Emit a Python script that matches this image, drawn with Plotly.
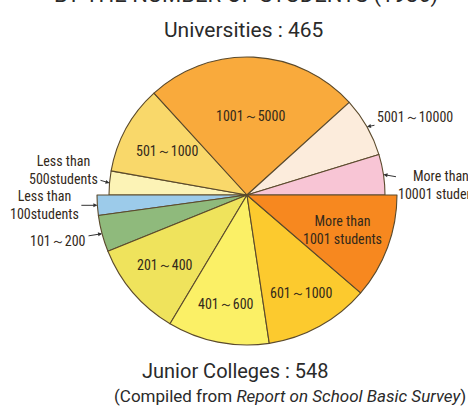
import math
import plotly.graph_objects as go

# Number of institutions by enrolment size
univ_labels = ["Less than<br>500students", "501～1000", "1001～5000",
               "5001～10000", "More than<br>10001 students"]
univ_counts = [26, 97, 233, 65, 44]

jc_labels = ["Less than<br>100students", "101～200", "201～400",
             "401～600", "601～1000", "More than<br>1001 students"]
jc_counts = [24, 43, 113, 120, 124, 124]

univ_title = "Universities : 465"
jc_title = "Junior Colleges : 548"
header = "BY THE NUMBER OF STUDENTS (1986)"
source = "(Compiled from <i>Report on School Basic Survey</i>)"

# ---- styling ----
W, H = 468, 409
CX, CY = 247, 195          # shared centre of the two half-pies (px)
R_TOP, R_BOT = 138, 150    # radii of upper / lower halves (px)
EDGE = "#5b4a2c"
INK = "#33291a"
LABEL_FONT = "Liberation Sans Narrow, Roboto Condensed, Arial Narrow, sans-serif"
TITLE_FONT = "Roboto, Liberation Sans, Arial, sans-serif"

univ_colors = ["#fcf3b6", "#f9d86a", "#f9aa3c", "#fcecdc", "#f8c5d5"]
jc_colors = ["#9ccbea", "#8fba7c", "#efe35c", "#fbf066", "#fcca2e", "#f7881f"]

# label placement: ("in", radius fraction) or ("out", dx px, dy px)
univ_place = [("out", -46, -13), ("in", 0.66), ("in", 0.57), ("out", 48, -10), ("out", 58, 10)]
jc_place = [("out", -53, 0), ("out", -44, 7), ("in", 0.72), ("in", 0.74), ("in", 0.75), ("in", 0.68)]


def px_to_paper(x, y):
    return x / W, 1 - y / H


def domain(r):
    x0, y1 = px_to_paper(CX - r, CY - r)
    x1, y0 = px_to_paper(CX + r, CY + r)
    return dict(x=[x0, x1], y=[y0, y1])


def upper_half(values, colors, r):
    # slices run clockwise from 9 o'clock over the top; a blank half closes the circle
    total = sum(values)
    return go.Pie(
        values=list(values) + [total],
        marker=dict(colors=list(colors) + ["rgba(0,0,0,0)"],
                    line=dict(color=EDGE, width=[1.1] * len(values) + [0])),
        sort=False, direction="clockwise", rotation=-90,
        textinfo="none", hoverinfo="skip", showlegend=False,
        domain=domain(r),
    )


def lower_half(values, colors, r):
    # blank half first (covers the top), then slices run from 9 o'clock down to 3 o'clock
    total = sum(values)
    return go.Pie(
        values=[total] + list(values),
        marker=dict(colors=["rgba(0,0,0,0)"] + list(colors),
                    line=dict(color=EDGE, width=[0] + [1.1] * len(values))),
        sort=False, direction="counterclockwise", rotation=-90,
        textinfo="none", hoverinfo="skip", showlegend=False,
        domain=domain(r),
    )


fig = go.Figure()
fig.add_trace(upper_half(univ_counts, univ_colors, R_TOP))
fig.add_trace(lower_half(jc_counts, jc_colors, R_BOT))

annotations = []


def add_labels(labels, values, place, r, sign):
    total = sum(values)
    cum = 0
    for lab, v, pl in zip(labels, values, place):
        mid = 180 + sign * 180 * (cum + v / 2) / total
        cum += v
        a = math.radians(mid)
        font = dict(size=14, color=INK, family=LABEL_FONT)
        if pl[0] == "in":
            f = pl[1]
            x, y = px_to_paper(CX + r * f * math.cos(a), CY - r * f * math.sin(a))
            annotations.append(dict(x=x, y=y, xref="paper", yref="paper", text=lab,
                                    xanchor="center", yanchor="middle",
                                    showarrow=False, font=font))
        else:
            x, y = px_to_paper(CX + r * math.cos(a), CY - r * math.sin(a))
            annotations.append(dict(x=x, y=y, xref="paper", yref="paper", text=lab,
                                    showarrow=True, ax=pl[1], ay=pl[2], arrowhead=2,
                                    arrowsize=0.8, arrowwidth=1, arrowcolor="#333",
                                    standoff=0, startstandoff=1, font=font))


add_labels(univ_labels, univ_counts, univ_place, R_TOP, -1)
add_labels(jc_labels, jc_counts, jc_place, R_BOT, +1)


def add_text(text, cx, cy, size):
    x, y = px_to_paper(cx, cy)
    annotations.append(dict(x=x, y=y, xref="paper", yref="paper", text=text, showarrow=False,
                            xanchor="center", yanchor="middle",
                            font=dict(size=size, color="#2a2a2a", family=TITLE_FONT)))


add_text(header, 246, -5, 22)
add_text(univ_title, 243, 30, 21)
add_text(jc_title, 235, 371, 20)
add_text(source, 290, 396, 17)

fig.update_layout(width=W, height=H, margin=dict(l=0, r=0, t=0, b=0),
                  paper_bgcolor="white", plot_bgcolor="white",
                  annotations=annotations)

fig.write_html("out.html")
